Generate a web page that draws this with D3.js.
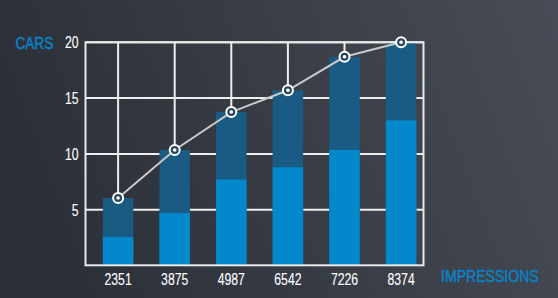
<!DOCTYPE html>
<html>
<head>
<meta charset="utf-8">
<style>
  html, body { margin: 0; padding: 0; background: #3a3e46; }
  svg { display: block; }
  text { font-family: "Liberation Sans", Arial, sans-serif; }
</style>
</head>
<body>
<div id="chart"></div>
<script src="https://d3js.org/d3.v7.min.js"></script>
<script>

var impressions = ["2351", "3875", "4987", "6542", "7226", "8374"];
var totalCars = [6.05, 10.35, 13.75, 15.7, 18.7, 20];
var lowerCars = [2.55, 4.7, 7.7, 8.8, 10.35, 13.0];
var yTicks = [5, 10, 15, 20];

var w = 558,
    h = 298;

var frame = {left: 85.5, right: 423.5, top: 42.3, bottom: 265.3};

var svg = d3.select("#chart")
  .append("svg")
    .attr("width", w)
    .attr("height", h);

// background gradient, dark on the left, lighter on the right
var grad = svg.append("defs").append("linearGradient")
    .attr("id", "bg")
    .attr("x1", 0).attr("y1", 0.2)
    .attr("x2", 1).attr("y2", 0);
grad.append("stop").attr("offset", 0).attr("stop-color", "#2c3038");
grad.append("stop").attr("offset", 1).attr("stop-color", "#474c56");

svg.append("rect")
    .attr("width", w)
    .attr("height", h)
    .attr("fill", "url(#bg)");

var x = d3.scaleBand()
    .domain(impressions)
    .range([89.8, 429.4])
    .paddingInner(0.46)
    .paddingOuter(0.23);

var y = d3.scaleLinear()
    .domain([0, 20])
    .range([265.5, 42.3]);

var cx = function(d) { return x(d) + x.bandwidth() / 2; };

// narrow text: no condensed face installed, so squeeze horizontally
function at(px, py, sx) {
  return "translate(" + px + "," + py + ") scale(" + sx + ",1)";
}

// grid
var grid = svg.append("g").attr("class", "grid");
grid.selectAll("line.h")
    .data(yTicks)
  .enter().append("line")
    .attr("class", "h")
    .attr("x1", frame.left).attr("x2", frame.right)
    .attr("y1", d => y(d)).attr("y2", d => y(d))
    .attr("stroke", "#eeeeee")
    .attr("stroke-width", 2);

grid.selectAll("line.v")
    .data(impressions)
  .enter().append("line")
    .attr("class", "v")
    .attr("x1", cx).attr("x2", cx)
    .attr("y1", frame.top).attr("y2", frame.bottom)
    .attr("stroke", "#eeeeee")
    .attr("stroke-width", 2);

// bars: total (dark) then lower part (light)
svg.append("g")
  .selectAll("rect")
    .data(impressions)
  .enter().append("rect")
    .attr("x", d => x(d))
    .attr("width", x.bandwidth())
    .attr("y", (d, i) => y(totalCars[i]))
    .attr("height", (d, i) => frame.bottom - y(totalCars[i]))
    .attr("fill", "#1a5b84");

svg.append("g")
  .selectAll("rect")
    .data(impressions)
  .enter().append("rect")
    .attr("x", d => x(d))
    .attr("width", x.bandwidth())
    .attr("y", (d, i) => y(lowerCars[i]))
    .attr("height", (d, i) => frame.bottom - y(lowerCars[i]))
    .attr("fill", "#0388cb");

// frame
svg.append("rect")
    .attr("x", frame.left)
    .attr("y", frame.top)
    .attr("width", frame.right - frame.left)
    .attr("height", frame.bottom - frame.top)
    .attr("fill", "none")
    .attr("stroke", "#e8e8e8")
    .attr("stroke-width", 2);

// line through the totals
var line = d3.line()
    .x((d, i) => cx(impressions[i]))
    .y(d => y(d));

svg.append("path")
    .datum(totalCars)
    .attr("d", line)
    .attr("fill", "none")
    .attr("stroke", "#c9c9c9")
    .attr("stroke-width", 2);

var pts = svg.append("g")
  .selectAll("g")
    .data(totalCars)
  .enter().append("g")
    .attr("transform", (d, i) => "translate(" + cx(impressions[i]) + "," + y(d) + ")");

pts.append("circle")
    .attr("r", 5)
    .attr("fill", "#2f4a60")
    .attr("stroke", "#ffffff")
    .attr("stroke-width", 2);

pts.append("circle")
    .attr("r", 1.8)
    .attr("fill", "#ffffff");

// y tick labels
svg.append("g")
  .selectAll("text")
    .data(yTicks)
  .enter().append("text")
    .attr("transform", d => at(78.5, y(d) + 6, 0.72))
    .attr("text-anchor", "end")
    .attr("fill", "#ffffff")
    .attr("stroke", "#ffffff")
    .attr("stroke-width", 0.12)
    .style("font-size", "17px")
    .text(d => d);

// x tick labels
svg.append("g")
  .selectAll("text")
    .data(impressions)
  .enter().append("text")
    .attr("transform", d => at(cx(d), 284.6, 0.72))
    .attr("text-anchor", "middle")
    .attr("fill", "#ffffff")
    .attr("stroke", "#ffffff")
    .attr("stroke-width", 0.12)
    .style("font-size", "17px")
    .text(d => d);

// axis titles
svg.append("text")
    .attr("transform", at(15.5, 49.3, 0.8))
    .attr("fill", "#0a82c8")
    .attr("stroke", "#0a82c8")
    .attr("stroke-width", 0.5)
    .style("font-size", "17px")
    .text("CARS");

svg.append("text")
    .attr("transform", at(441, 281.8, 0.88))
    .attr("fill", "#0a82c8")
    .attr("stroke", "#0a82c8")
    .attr("stroke-width", 0.45)
    .style("font-size", "16px")
    .text("IMPRESSIONS");

</script>
</body>
</html>
